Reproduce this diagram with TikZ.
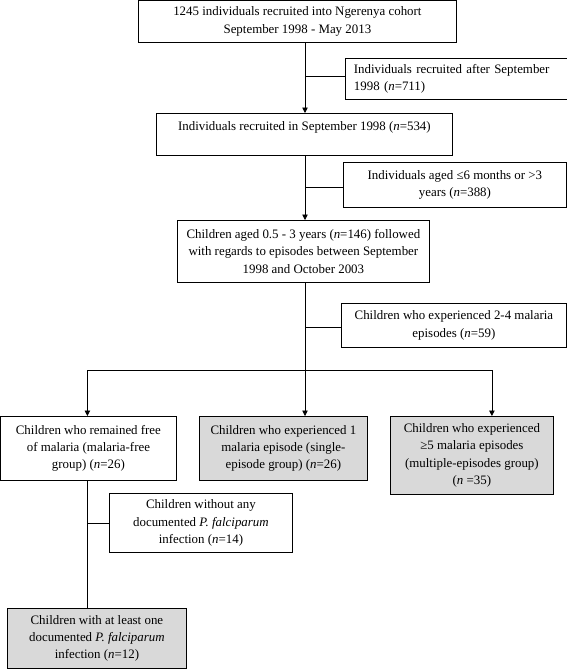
\documentclass[tikz,border=0pt]{standalone}
\usepackage{fontspec}
\setmainfont{Liberation Serif}
\usepackage{xcolor}
\usepackage{tikz}
\usetikzlibrary{arrows.meta,positioning}

\definecolor{boxgray}{gray}{0.85}

\begin{document}
\begin{tikzpicture}[
  x=1pt, y=-1pt,
  box/.style={draw, line width=0.8pt, align=center, inner sep=2pt, anchor=north west,
    font=\fontsize{12.9}{17.3}\selectfont},
  shaded/.style={box, fill=boxgray},
  arr/.style={-{Triangle[width=5.5pt,length=5.5pt]}, line width=0.8pt},
  lin/.style={line width=0.8pt}
]
  \useasboundingbox (0,0) rectangle (567,669);

  % main column
  \node[box, minimum width=318pt, minimum height=42pt] (recruited) at (138,0)
    {1245 individuals recruited into Ngerenya cohort\\September 1998 - May 2013};
  \node[box, minimum width=296pt, minimum height=42pt] (sept) at (156,113)
    {Individuals recruited in September 1998 (\textit{n}=534)\\\mbox{}};
  \node[box, minimum width=252pt, minimum height=62pt] (children) at (177,220)
    {Children aged 0.5 - 3 years (\textit{n}=146) followed\\with regards to episodes between September\\1998 and October 2003};

  % exclusions
  \node[box, align=left, minimum width=222pt, minimum height=41pt, inner xsep=8pt, text width=205pt] (after) at (345,58)
    {Individuals recruited after September\\1998 (\textit{n}=711)};
  \node[box, minimum width=223pt, minimum height=45pt] (aged) at (343,162)
    {Individuals aged ≤6 months or >3\\years (\textit{n}=388)};
  \node[box, minimum width=225pt, minimum height=44pt] (twofour) at (341,303)
    {Children who experienced 2-4 malaria\\episodes (\textit{n}=59)};

  % groups
  \node[box, minimum width=176pt, minimum height=64pt] (free) at (0,416)
    {Children who remained free\\of malaria (malaria-free\\group) (\textit{n}=26)};
  \node[shaded, minimum width=168pt, minimum height=64pt] (single) at (199,416)
    {Children who experienced 1\\malaria episode (single-\\episode group) (\textit{n}=26)};
  \node[shaded, minimum width=163pt, minimum height=78pt] (multi) at (390,416)
    {Children who experienced\\≥5 malaria episodes\\(multiple-episodes group)\\(\textit{n} =35)};

  \node[box, minimum width=183pt, minimum height=59pt] (noinf) at (109,493)
    {Children without any\\documented \textit{P. falciparum}\\infection (\textit{n}=14)};
  \node[shaded, minimum width=179pt, minimum height=60pt] (inf) at (7,608)
    {Children with at least one\\documented \textit{P. falciparum}\\infection (\textit{n}=12)};

  \coordinate (trunk) at (305,0);
  \coordinate (split) at (305,370);
  \coordinate (drop) at ([xshift=-1pt]free.south);

  \draw[arr] (recruited.south -| trunk) -- (sept.north -| trunk);
  \draw[arr] (sept.south -| trunk) -- (children.north -| trunk);
  \draw[lin] (children.south -| trunk) -- (split);
  \draw[lin] ([yshift=2.5pt]after.west) -- ([yshift=2.5pt]after.west -| trunk);
  \draw[lin] ([yshift=-2.5pt]aged.west) -- ([yshift=-2.5pt]aged.west -| trunk);
  \draw[lin] ([yshift=-2pt]twofour.west) -- ([yshift=-2pt]twofour.west -| trunk);

  \draw[arr] (split) -- (split |- single.north);
  \draw[arr] (split) -| ([xshift=-1pt]free.north);
  \draw[arr] (split) -| ([xshift=20pt]multi.north);

  \draw[lin] (drop) -- (drop |- inf.north);
  \draw[lin] (noinf.west) -- (noinf.west -| drop);
\end{tikzpicture}
\end{document}
